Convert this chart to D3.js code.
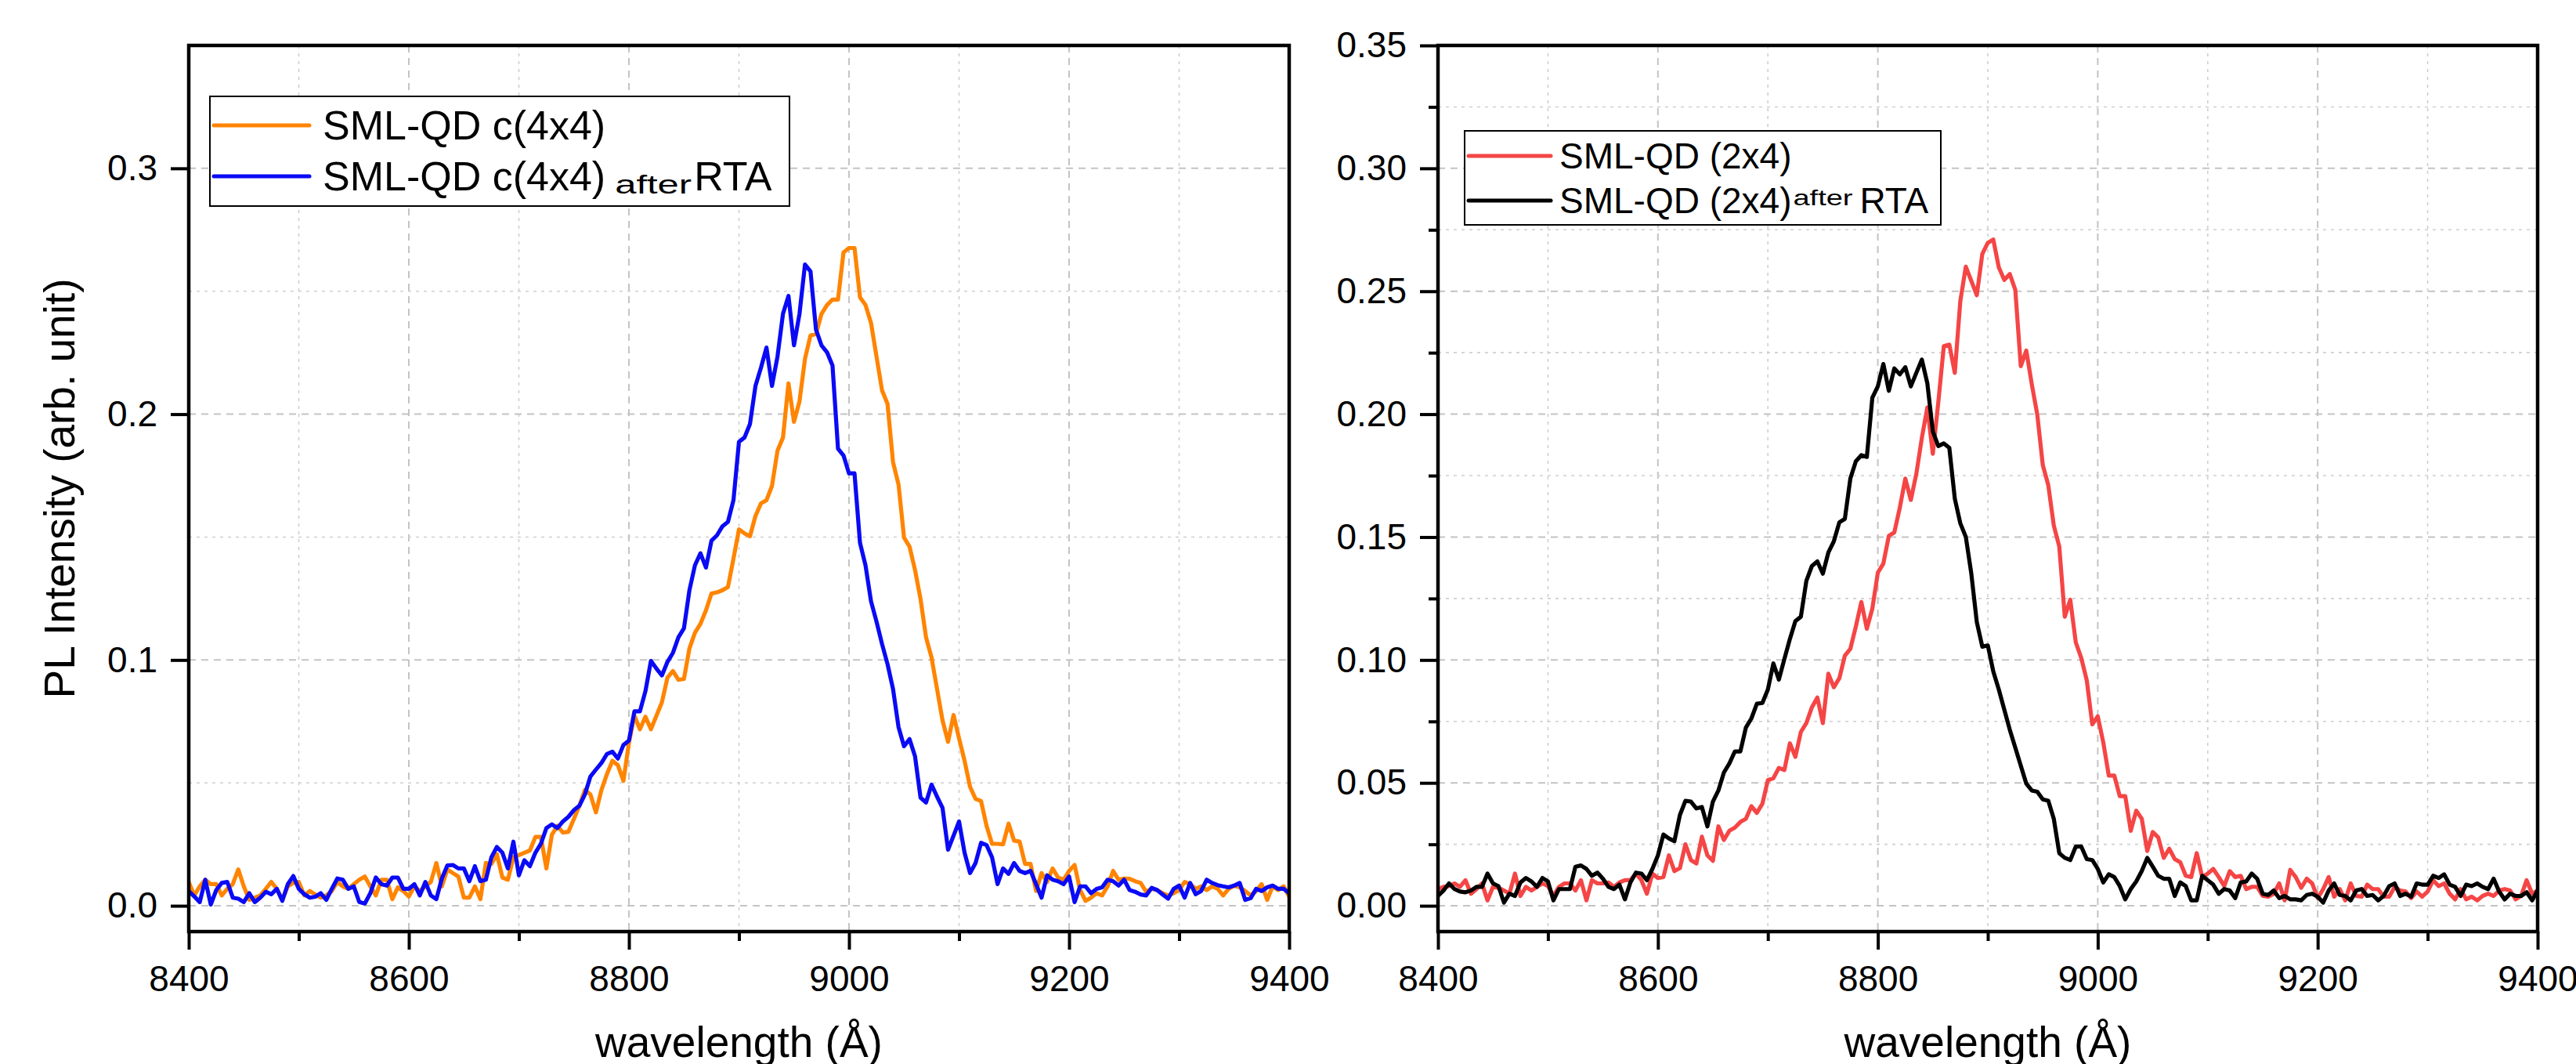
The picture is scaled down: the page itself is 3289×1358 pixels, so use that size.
<!DOCTYPE html>
<html>
<head>
<meta charset="utf-8">
<script src="https://cdn.jsdelivr.net/npm/d3@7"></script>
<style>
  body { margin: 0; background: #fff; }
  text { font-family: "Liberation Sans", Arial, sans-serif; fill: #000; }
</style>
</head>
<body>
<div id="chart"></div>
<script>
// wavelength grid of the spectra (Å)
const lambdaStart = 8400;
const lambdaStep = 5;

// left panel: SML-QD c(4x4), before / after RTA
const c4x4 = [
  0.0097, 0.0042, 0.0079, 0.0106, 0.0088, 0.0088, 0.0042, 0.0069, 0.0088, 0.0148,
  0.0079, 0.0024, 0.0033, 0.0042, 0.0069, 0.0097, 0.0069, 0.0024, 0.0079, 0.0093,
  0.0097, 0.0042, 0.0060, 0.0046, 0.0033, 0.0042, 0.0060, 0.0097, 0.0079, 0.0069,
  0.0088, 0.0106, 0.0119, 0.0079, 0.0042, 0.0106, 0.0106, 0.0027, 0.0075, 0.0060,
  0.0038, 0.0079, 0.0060, 0.0079, 0.0097, 0.0174, 0.0079, 0.0148, 0.0133, 0.0119,
  0.0033, 0.0033, 0.0079, 0.0027, 0.0174, 0.0170, 0.0210, 0.0115, 0.0106, 0.0197,
  0.0206, 0.0216, 0.0225, 0.0280, 0.0280, 0.0152, 0.0289, 0.0325, 0.0298, 0.0301,
  0.0353, 0.0407, 0.0471, 0.0453, 0.0380, 0.0471, 0.0535, 0.0590, 0.0572, 0.0508,
  0.0663, 0.0773, 0.0718, 0.0769, 0.0718, 0.0773, 0.0828, 0.0928, 0.0955, 0.0919,
  0.0923, 0.1047, 0.1111, 0.1147, 0.1202, 0.1270, 0.1275, 0.1284, 0.1297, 0.1412,
  0.1531, 0.1515, 0.1503, 0.1586, 0.1637, 0.1650, 0.1708, 0.1851, 0.1905, 0.2125,
  0.1969, 0.2052, 0.2225, 0.2320, 0.2326, 0.2408, 0.2444, 0.2466, 0.2466, 0.2658,
  0.2676, 0.2676, 0.2475, 0.2444, 0.2371, 0.2234, 0.2097, 0.2042, 0.1805, 0.1714,
  0.1498, 0.1461, 0.1366, 0.1248, 0.1092, 0.1010, 0.0882, 0.0754, 0.0667, 0.0776,
  0.0681, 0.0590, 0.0484, 0.0435, 0.0426, 0.0325, 0.0252, 0.0252, 0.0250, 0.0334,
  0.0265, 0.0261, 0.0170, 0.0170, 0.0060, 0.0133, 0.0097, 0.0152, 0.0115, 0.0106,
  0.0142, 0.0166, 0.0064, 0.0020, 0.0033, 0.0051, 0.0042, 0.0079, 0.0142, 0.0106,
  0.0111, 0.0110, 0.0100, 0.0093, 0.0057, 0.0069, 0.0064, 0.0051, 0.0042, 0.0051,
  0.0064, 0.0097, 0.0088, 0.0069, 0.0079, 0.0064, 0.0079, 0.0069, 0.0042, 0.0069,
  0.0082, 0.0075, 0.0060, 0.0042, 0.0060, 0.0088, 0.0024, 0.0079, 0.0064, 0.0079,
  0.0038
];

const c4x4RTA = [
  0.0060, 0.0038, 0.0015, 0.0106, 0.0005, 0.0064, 0.0093, 0.0097, 0.0033, 0.0029,
  0.0015, 0.0051, 0.0015, 0.0033, 0.0057, 0.0047, 0.0069, 0.0020, 0.0088, 0.0121,
  0.0069, 0.0047, 0.0033, 0.0037, 0.0051, 0.0024, 0.0069, 0.0111, 0.0106, 0.0069,
  0.0079, 0.0015, 0.0009, 0.0051, 0.0115, 0.0088, 0.0082, 0.0115, 0.0115, 0.0069,
  0.0069, 0.0088, 0.0042, 0.0097, 0.0042, 0.0027, 0.0111, 0.0164, 0.0166, 0.0152,
  0.0152, 0.0100, 0.0161, 0.0100, 0.0106, 0.0197, 0.0239, 0.0216, 0.0152, 0.0261,
  0.0124, 0.0185, 0.0161, 0.0216, 0.0252, 0.0316, 0.0331, 0.0316, 0.0343, 0.0362,
  0.0389, 0.0407, 0.0453, 0.0526, 0.0554, 0.0581, 0.0617, 0.0627, 0.0599, 0.0654,
  0.0672, 0.0791, 0.0791, 0.0873, 0.0996, 0.0965, 0.0937, 0.0992, 0.1029, 0.1092,
  0.1129, 0.1284, 0.1385, 0.1434, 0.1376, 0.1485, 0.1507, 0.1544, 0.1562, 0.1650,
  0.1887, 0.1905, 0.1960, 0.2115, 0.2189, 0.2271, 0.2115, 0.2234, 0.2408, 0.2481,
  0.2280, 0.2408, 0.2609, 0.2581, 0.2344, 0.2280, 0.2252, 0.2198, 0.1860, 0.1832,
  0.1759, 0.1759, 0.1476, 0.1385, 0.1239, 0.1156, 0.1065, 0.0983, 0.0882, 0.0727,
  0.0649, 0.0678, 0.0608, 0.0440, 0.0420, 0.0493, 0.0444, 0.0398, 0.0228, 0.0285,
  0.0343, 0.0216, 0.0133, 0.0174, 0.0256, 0.0247, 0.0197, 0.0088, 0.0152, 0.0130,
  0.0174, 0.0142, 0.0133, 0.0142, 0.0088, 0.0033, 0.0124, 0.0106, 0.0100, 0.0088,
  0.0119, 0.0015, 0.0079, 0.0079, 0.0051, 0.0069, 0.0075, 0.0106, 0.0100, 0.0082,
  0.0106, 0.0064, 0.0057, 0.0046, 0.0042, 0.0073, 0.0064, 0.0046, 0.0029, 0.0069,
  0.0082, 0.0033, 0.0093, 0.0047, 0.0060, 0.0106, 0.0093, 0.0084, 0.0079, 0.0075,
  0.0082, 0.0093, 0.0024, 0.0031, 0.0069, 0.0060, 0.0075, 0.0082, 0.0069, 0.0069,
  0.0051
];

// right panel: SML-QD (2x4), before / after RTA
const s2x4 = [
  0.0068, 0.0077, 0.0080, 0.0091, 0.0077, 0.0104, 0.0049, 0.0068, 0.0091, 0.0022,
  0.0077, 0.0073, 0.0062, 0.0049, 0.0131, 0.0040, 0.0077, 0.0062, 0.0077, 0.0091,
  0.0080, 0.0040, 0.0077, 0.0091, 0.0091, 0.0062, 0.0104, 0.0022, 0.0104, 0.0091,
  0.0091, 0.0095, 0.0077, 0.0095, 0.0104, 0.0104, 0.0131, 0.0104, 0.0049, 0.0131,
  0.0113, 0.0117, 0.0205, 0.0141, 0.0153, 0.0250, 0.0186, 0.0172, 0.0281, 0.0205,
  0.0183, 0.0323, 0.0268, 0.0305, 0.0318, 0.0341, 0.0354, 0.0405, 0.0378, 0.0415,
  0.0511, 0.0519, 0.0561, 0.0552, 0.0661, 0.0606, 0.0707, 0.0743, 0.0807, 0.0847,
  0.0743, 0.0944, 0.0889, 0.0926, 0.1017, 0.1045, 0.1136, 0.1236, 0.1127, 0.1209,
  0.1355, 0.1392, 0.1505, 0.1519, 0.1620, 0.1738, 0.1651, 0.1757, 0.1903, 0.2027,
  0.1839, 0.2049, 0.2277, 0.2283, 0.2168, 0.2460, 0.2600, 0.2542, 0.2484, 0.2652,
  0.2697, 0.2710, 0.2597, 0.2546, 0.2570, 0.2506, 0.2195, 0.2259, 0.2122, 0.1998,
  0.1793, 0.1711, 0.1547, 0.1461, 0.1176, 0.1245, 0.1072, 0.1008, 0.0917, 0.0738,
  0.0771, 0.0665, 0.0530, 0.0530, 0.0446, 0.0446, 0.0305, 0.0387, 0.0354, 0.0223,
  0.0300, 0.0278, 0.0195, 0.0232, 0.0190, 0.0177, 0.0122, 0.0117, 0.0214, 0.0117,
  0.0131, 0.0150, 0.0117, 0.0080, 0.0141, 0.0117, 0.0122, 0.0068, 0.0077, 0.0077,
  0.0040, 0.0037, 0.0049, 0.0091, 0.0022, 0.0146, 0.0117, 0.0073, 0.0110, 0.0091,
  0.0031, 0.0068, 0.0117, 0.0037, 0.0068, 0.0022, 0.0091, 0.0040, 0.0037, 0.0086,
  0.0068, 0.0068, 0.0037, 0.0037, 0.0077, 0.0062, 0.0058, 0.0031, 0.0058, 0.0037,
  0.0058, 0.0104, 0.0080, 0.0091, 0.0049, 0.0026, 0.0068, 0.0026, 0.0037, 0.0022,
  0.0040, 0.0049, 0.0040, 0.0062, 0.0068, 0.0062, 0.0026, 0.0040, 0.0104, 0.0049,
  0.0062
];

const s2x4RTA = [
  0.0040, 0.0062, 0.0091, 0.0068, 0.0058, 0.0055, 0.0062, 0.0077, 0.0077, 0.0131,
  0.0091, 0.0080, 0.0013, 0.0049, 0.0040, 0.0095, 0.0113, 0.0099, 0.0077, 0.0113,
  0.0099, 0.0022, 0.0068, 0.0068, 0.0068, 0.0159, 0.0164, 0.0150, 0.0122, 0.0135,
  0.0110, 0.0077, 0.0068, 0.0086, 0.0026, 0.0095, 0.0135, 0.0131, 0.0104, 0.0150,
  0.0205, 0.0290, 0.0274, 0.0263, 0.0369, 0.0427, 0.0424, 0.0396, 0.0402, 0.0323,
  0.0424, 0.0469, 0.0542, 0.0579, 0.0628, 0.0628, 0.0725, 0.0762, 0.0822, 0.0825,
  0.0880, 0.0986, 0.0920, 0.1004, 0.1085, 0.1158, 0.1176, 0.1322, 0.1382, 0.1401,
  0.1351, 0.1437, 0.1483, 0.1560, 0.1574, 0.1738, 0.1808, 0.1833, 0.1826, 0.2067,
  0.2113, 0.2204, 0.2095, 0.2186, 0.2162, 0.2191, 0.2113, 0.2168, 0.2222, 0.2126,
  0.1930, 0.1870, 0.1881, 0.1863, 0.1656, 0.1556, 0.1501, 0.1351, 0.1154, 0.1054,
  0.1059, 0.0953, 0.0880, 0.0798, 0.0716, 0.0643, 0.0570, 0.0497, 0.0469, 0.0464,
  0.0433, 0.0427, 0.0354, 0.0214, 0.0195, 0.0186, 0.0241, 0.0241, 0.0190, 0.0186,
  0.0150, 0.0095, 0.0128, 0.0117, 0.0080, 0.0026, 0.0068, 0.0099, 0.0141, 0.0195,
  0.0159, 0.0122, 0.0110, 0.0110, 0.0040, 0.0095, 0.0080, 0.0022, 0.0022, 0.0122,
  0.0104, 0.0086, 0.0049, 0.0068, 0.0062, 0.0031, 0.0095, 0.0099, 0.0131, 0.0110,
  0.0049, 0.0044, 0.0062, 0.0031, 0.0040, 0.0026, 0.0026, 0.0022, 0.0044, 0.0049,
  0.0037, 0.0013, 0.0062, 0.0091, 0.0044, 0.0040, 0.0022, 0.0062, 0.0068, 0.0040,
  0.0044, 0.0022, 0.0040, 0.0080, 0.0091, 0.0040, 0.0049, 0.0037, 0.0091, 0.0086,
  0.0086, 0.0122, 0.0113, 0.0128, 0.0086, 0.0077, 0.0040, 0.0086, 0.0080, 0.0091,
  0.0077, 0.0068, 0.0110, 0.0058, 0.0026, 0.0049, 0.0040, 0.0040, 0.0055, 0.0022,
  0.0062
];

// axis ticks
const xMajorTicks = [8400, 8600, 8800, 9000, 9200, 9400];
const xMinorTicks = [8500, 8700, 8900, 9100, 9300];
const leftYMajor = [0.0, 0.1, 0.2, 0.3];
const leftYMinor = [0.05, 0.15, 0.25];
const rightYMajor = [0.0, 0.05, 0.1, 0.15, 0.2, 0.25, 0.3, 0.35];
const rightYMinor = [0.025, 0.075, 0.125, 0.175, 0.225, 0.275, 0.325];

const xDomain = [8400, 9400];
const yDomain = [-0.0105, 0.35];

const W = 3289, H = 1358;
const plotTop = 58, plotBottom = 1189;

let svg = d3
  .select("#chart")
  .append("svg")
  .attr("width", W)
  .attr("height", H);

function drawPanel(opts) {
  const x = d3.scaleLinear().domain(xDomain).range([opts.left, opts.right]);
  const y = d3.scaleLinear().domain(yDomain).range([plotBottom, plotTop]);
  const g = svg.append("g");

  // grid (major / minor)
  const grid = g.append("g");
  const vGrid = (vals, major) =>
    grid
      .selectAll(null)
      .data(vals)
      .enter()
      .append("line")
      .attr("x1", (d) => x(d))
      .attr("x2", (d) => x(d))
      .attr("y1", plotTop)
      .attr("y2", plotBottom)
      .attr("stroke", major ? "#c4c4c4" : "#cfcfcf")
      .attr("stroke-width", major ? 2 : 1.6)
      .attr("stroke-dasharray", major ? "9,7" : "4,6");
  const hGrid = (vals, major) =>
    grid
      .selectAll(null)
      .data(vals)
      .enter()
      .append("line")
      .attr("x1", opts.left)
      .attr("x2", opts.right)
      .attr("y1", (d) => y(d))
      .attr("y2", (d) => y(d))
      .attr("stroke", major ? "#c4c4c4" : "#cfcfcf")
      .attr("stroke-width", major ? 2 : 1.6)
      .attr("stroke-dasharray", major ? "9,7" : "4,6");
  vGrid(xMajorTicks.slice(1, -1), true);
  vGrid(xMinorTicks, false);
  hGrid(opts.yMajor.filter((d) => d < 0.35), true);
  hGrid(opts.yMinor, false);

  // clip for the spectra
  svg
    .append("clipPath")
    .attr("id", opts.id + "-clip")
    .append("rect")
    .attr("x", opts.left)
    .attr("y", plotTop)
    .attr("width", opts.right - opts.left)
    .attr("height", plotBottom - plotTop);

  const line = d3
    .line()
    .x((d, i) => x(lambdaStart + i * lambdaStep))
    .y((d) => y(d));

  opts.series.forEach((s) => {
    g.append("path")
      .datum(s.values)
      .attr("clip-path", "url(#" + opts.id + "-clip)")
      .attr("fill", "none")
      .attr("stroke", s.color)
      .attr("stroke-width", 5.2)
      .attr("stroke-linejoin", "round")
      .attr("d", line);
  });

  // frame
  g.append("rect")
    .attr("x", opts.left)
    .attr("y", plotTop)
    .attr("width", opts.right - opts.left)
    .attr("height", plotBottom - plotTop)
    .attr("fill", "none")
    .attr("stroke", "#000")
    .attr("stroke-width", 4.5);

  // x axis
  const xMinorAxis = g
    .append("g")
    .attr("transform", "translate(0," + plotBottom + ")")
    .call(d3.axisBottom(x).tickValues(xMinorTicks).tickSize(12).tickFormat(""));
  const xAxis = g
    .append("g")
    .attr("transform", "translate(0," + plotBottom + ")")
    .call(
      d3.axisBottom(x).tickValues(xMajorTicks).tickSize(23).tickPadding(20).tickFormat(d3.format("d"))
    );

  // y axis
  const yMinorAxis = g
    .append("g")
    .attr("transform", "translate(" + opts.left + ",0)")
    .call(d3.axisLeft(y).tickValues(opts.yMinorTicks).tickSize(12).tickFormat(""));
  const yAxis = g
    .append("g")
    .attr("transform", "translate(" + opts.left + ",0)")
    .call(d3.axisLeft(y).tickValues(opts.yMajor).tickSize(23).tickPadding(17).tickFormat(opts.yFormat));

  [xMinorAxis, xAxis, yMinorAxis, yAxis].forEach((a) => {
    a.select(".domain").remove();
    a.selectAll(".tick line").attr("stroke", "#000").attr("stroke-width", 4);
    a.selectAll(".tick text")
      .attr("font-family", '"Liberation Sans", Arial, sans-serif')
      .attr("font-size", 46)
      .attr("fill", "#000");
  });

  // x title
  g.append("text")
    .attr("x", (opts.left + opts.right) / 2)
    .attr("y", 1349)
    .attr("text-anchor", "middle")
    .attr("font-size", 55)
    .text("wavelength (Å)");

  if (opts.yTitle) {
    g.append("text")
      .attr("transform", "translate(95," + (plotTop + plotBottom) / 2 + ") rotate(-90)")
      .attr("text-anchor", "middle")
      .attr("font-size", 55)
      .text(opts.yTitle);
  }

  // legend
  const lg = opts.legend;
  g.append("rect")
    .attr("x", lg.x)
    .attr("y", lg.y)
    .attr("width", lg.w)
    .attr("height", lg.h)
    .attr("fill", "#fff")
    .attr("stroke", "#000")
    .attr("stroke-width", 2);

  opts.series.forEach((s, i) => {
    const base = lg.y + lg.firstBase + i * lg.rowGap;
    g.append("line")
      .attr("x1", lg.x + 5)
      .attr("x2", lg.x + 5 + lg.sample)
      .attr("y1", base - lg.lineLift)
      .attr("y2", base - lg.lineLift)
      .attr("stroke", s.color)
      .attr("stroke-width", 5)
      .attr("stroke-linecap", "round");
    const t = g
      .append("text")
      .attr("x", lg.x + lg.textOffset)
      .attr("y", base)
      .attr("font-size", lg.fontSize)
      .text(s.name);
    if (s.after) {
      const end = lg.x + lg.textOffset + t.node().getComputedTextLength();
      const ax = end + lg.afterGap;
      g.append("text")
        .attr("x", ax)
        .attr("y", base + lg.afterShift)
        .attr("font-size", lg.afterSize)
        .attr("textLength", lg.afterWidth)
        .attr("lengthAdjust", "spacingAndGlyphs")
        .text("after");
      g.append("text")
        .attr("x", ax + lg.afterWidth + lg.rtaGap)
        .attr("y", base)
        .attr("font-size", lg.fontSize)
        .text("RTA");
    }
  });
}

drawPanel({
  id: "left",
  left: 241,
  right: 1646,
  yMajor: leftYMajor,
  yMinor: leftYMinor,
  yMinorTicks: [],
  yFormat: d3.format(".1f"),
  yTitle: "PL Intensity (arb. unit)",
  series: [
    { name: "SML-QD c(4x4)", values: c4x4, color: "#ff8400" },
    { name: "SML-QD c(4x4)", values: c4x4RTA, color: "#0a0af5", after: true },
  ],
  legend: {
    x: 268, y: 123, w: 740, h: 140,
    firstBase: 55, rowGap: 65, lineLift: 18, sample: 122, textOffset: 144,
    fontSize: 52, afterSize: 33, afterWidth: 98, afterGap: 12, afterShift: 4, rtaGap: 3,
  },
});

drawPanel({
  id: "right",
  left: 1836,
  right: 3240,
  yMajor: rightYMajor,
  yMinor: rightYMinor,
  yMinorTicks: rightYMinor,
  yFormat: d3.format(".2f"),
  yTitle: null,
  series: [
    { name: "SML-QD (2x4)", values: s2x4, color: "#f54545" },
    { name: "SML-QD (2x4)", values: s2x4RTA, color: "#000000", after: true },
  ],
  legend: {
    x: 1870, y: 167, w: 608, h: 120,
    firstBase: 48, rowGap: 57, lineLift: 16, sample: 105, textOffset: 121,
    fontSize: 46, afterSize: 28, afterWidth: 76, afterGap: 2, afterShift: -10, rtaGap: 9,
  },
});
</script>
</body>
</html>
